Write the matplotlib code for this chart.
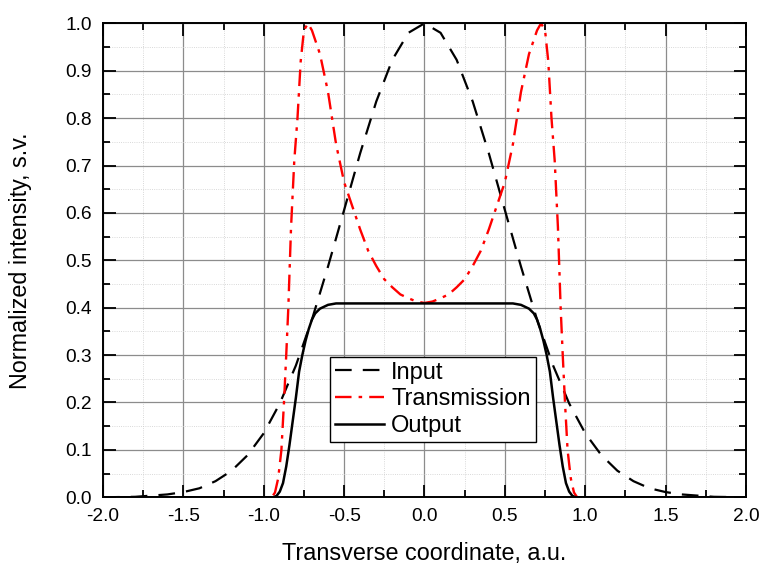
import numpy as np
import matplotlib
matplotlib.use("Agg")
import matplotlib.pyplot as plt
from matplotlib.ticker import MultipleLocator, FormatStrFormatter

plt.rcParams['font.family'] = ['Liberation Sans', 'DejaVu Sans']

# values
x_input = [-2.0, -1.8, -1.6, -1.5, -1.4, -1.3, -1.2, -1.1, -1.0, -0.9, -0.8, -0.7,
           -0.6, -0.5, -0.4, -0.3, -0.2, -0.1, 0.0, 0.1, 0.2, 0.3, 0.4, 0.5, 0.6,
           0.7, 0.8, 0.9, 1.0, 1.1, 1.2, 1.3, 1.4, 1.5, 1.6, 1.8, 2.0]
y_input = [0.0, 0.001, 0.006, 0.011, 0.019, 0.034, 0.056, 0.089, 0.135, 0.198,
           0.278, 0.375, 0.487, 0.606, 0.726, 0.835, 0.923, 0.980, 1.0, 0.980,
           0.923, 0.835, 0.726, 0.606, 0.487, 0.375, 0.278, 0.198, 0.135, 0.089,
           0.056, 0.034, 0.019, 0.011, 0.006, 0.001, 0.0]

x_trans = [-2.0, -0.95, -0.93, -0.91, -0.89, -0.874, -0.86, -0.847, -0.83,
           -0.81, -0.79, -0.77, -0.75, -0.725, -0.7, -0.65, -0.6, -0.55,
           -0.5, -0.45, -0.4, -0.35, -0.3, -0.25, -0.2, -0.15, -0.1, -0.05, 0.0,
           0.05, 0.1, 0.15, 0.2, 0.25, 0.3, 0.35, 0.4, 0.45, 0.5, 0.55, 0.6,
           0.65, 0.7, 0.725, 0.75, 0.77, 0.79, 0.81, 0.83, 0.847, 0.86, 0.874,
           0.89, 0.91, 0.93, 0.95, 2.0]
y_trans = [0.0, 0.0, 0.01, 0.04, 0.10, 0.20, 0.30, 0.40, 0.57,
           0.71, 0.80, 0.92, 0.985, 1.0, 0.985, 0.935, 0.855, 0.745,
           0.665, 0.615, 0.565, 0.52, 0.488, 0.46, 0.443, 0.428, 0.42, 0.413, 0.41,
           0.413, 0.42, 0.428, 0.443, 0.46, 0.488, 0.52, 0.565, 0.615, 0.665, 0.745,
           0.855, 0.935, 0.985, 1.0, 0.985, 0.92, 0.80, 0.71, 0.57, 0.40, 0.30,
           0.20, 0.10, 0.04, 0.01, 0.0, 0.0]

x_output = [-2.0, -0.94, -0.92, -0.90, -0.88, -0.86, -0.84, -0.82, -0.80, -0.78,
            -0.76, -0.74, -0.72, -0.70, -0.68, -0.65, -0.6, -0.55, 0.0, 0.55, 0.6,
            0.65, 0.68, 0.70, 0.72, 0.74, 0.76, 0.78, 0.80, 0.82, 0.84, 0.86,
            0.88, 0.90, 0.92, 0.94, 2.0]
y_output = [0.0, 0.0, 0.003, 0.012, 0.03, 0.065, 0.11, 0.16, 0.21, 0.265,
            0.30, 0.33, 0.355, 0.375, 0.388, 0.398, 0.406, 0.409, 0.409, 0.409, 0.406,
            0.398, 0.388, 0.375, 0.355, 0.33, 0.30, 0.265, 0.21, 0.16, 0.11, 0.065,
            0.03, 0.012, 0.003, 0.0, 0.0]

fig = plt.figure(figsize=(7.61, 5.66), dpi=100)
ax = fig.add_axes([0.1353, 0.1214, 0.845, 0.8374])

ax.plot(x_input, y_input, color='black', lw=1.6, dashes=(7.5, 5), label='Input')
ax.plot(x_trans, y_trans, color='red', lw=1.7, dashes=(7, 3, 1.5, 3), label='Transmission')
ax.plot(x_output, y_output, color='black', lw=1.8, label='Output')

ax.set_xlim(-2, 2)
ax.set_ylim(0, 1)
ax.xaxis.set_major_locator(MultipleLocator(0.5))
ax.xaxis.set_minor_locator(MultipleLocator(0.25))
ax.yaxis.set_major_locator(MultipleLocator(0.1))
ax.yaxis.set_minor_locator(MultipleLocator(0.05))
ax.xaxis.set_major_formatter(FormatStrFormatter('%.1f'))
ax.yaxis.set_major_formatter(FormatStrFormatter('%.1f'))

ax.grid(which='major', color='#8c8c8c', lw=0.9)
ax.grid(which='minor', color='#cccccc', lw=0.6, ls=':')
ax.set_axisbelow(True)

ax.tick_params(which='both', direction='in', top=True, right=True, width=1.3, labelsize=13.8)
ax.tick_params(which='major', length=9, pad=8)
ax.tick_params(which='minor', length=5)
for s in ax.spines.values():
    s.set_linewidth(1.4)

ax.set_xlabel('Transverse coordinate, a.u.', fontsize=16.8, labelpad=12)
ax.set_ylabel('Normalized intensity, s.v.', fontsize=16.8, labelpad=24)

leg = ax.legend(loc='upper left', bbox_to_anchor=(0.353, 0.296), fontsize=17,
                handlelength=2.1, handletextpad=0.3, borderpad=0.2, labelspacing=0.2,
                fancybox=False, framealpha=1, edgecolor='black', borderaxespad=0)
leg.get_frame().set_linewidth(1.0)

fig.savefig('out.png', dpi=100)
